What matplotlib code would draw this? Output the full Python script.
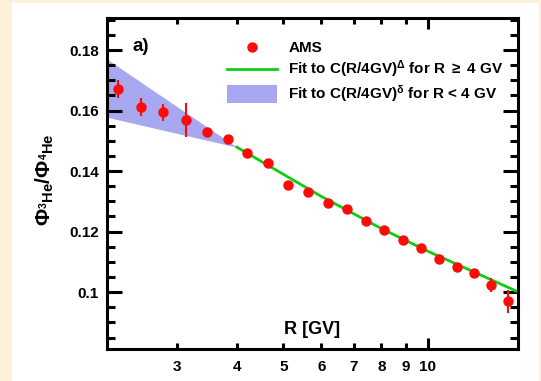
import matplotlib
matplotlib.use("Agg")
import matplotlib.pyplot as plt
from matplotlib.patches import Rectangle, Patch
from matplotlib.lines import Line2D
from matplotlib.legend_handler import HandlerPatch
import numpy as np

plt.rcParams['font.family'] = ['Liberation Sans', 'DejaVu Sans']
plt.rcParams['font.weight'] = 'bold'
plt.rcParams['mathtext.fontset'] = 'custom'
plt.rcParams['mathtext.rm'] = 'Liberation Sans:bold'
plt.rcParams['mathtext.it'] = 'Liberation Sans:bold'
plt.rcParams['mathtext.bf'] = 'Liberation Sans:bold'

# AMS 3He/4He flux ratio
rig = [2.26, 2.53, 2.81, 3.13, 3.46, 3.83, 4.20, 4.64, 5.11, 5.62, 6.19,
       6.78, 7.42, 8.09, 8.86, 9.66, 10.53, 11.48, 12.46, 13.52, 14.66]
ratio = [0.1671, 0.1612, 0.1595, 0.1569, 0.1529, 0.1506, 0.1460, 0.1426,
         0.1354, 0.1331, 0.1294, 0.1274, 0.1235, 0.1205, 0.1172, 0.1145,
         0.1109, 0.1083, 0.1063, 0.1023, 0.0970]
err = [0.0030, 0.0031, 0.0028, 0.0055, 0.0008, 0.0008, 0.0008, 0.0008,
       0.0008, 0.0008, 0.0008, 0.0008, 0.0008, 0.0008, 0.0008, 0.0008,
       0.0008, 0.0008, 0.0008, 0.0023, 0.0038]

# fit above 4 GV
fit_R = [4.0, 6.0, 8.0, 10.0, 15.4]
fit_y = [0.1479, 0.1316, 0.1210, 0.1135, 0.1001]

# band below 4 GV
band_R = [2.145, 4.0]
band_lo = [0.1578, 0.1479]
band_hi = [0.1770, 0.1479]

xticks = [3, 4, 5, 6, 7, 8, 9, 10]

fig = plt.figure(figsize=(5.41, 3.81), dpi=100)
fig.patch.set_facecolor('#fcf0d8')
fig.patches.append(Rectangle((12 / 541, 0), 527 / 541, 378 / 381,
                             transform=fig.transFigure, facecolor='white',
                             edgecolor='none', zorder=-5))

ax = fig.add_axes([107 / 541, 1 - 349 / 381, 411 / 541, 331 / 381])
ax.set_zorder(2)
ax.patch.set_alpha(0)
ax.set_xscale('log')
ax.set_xlim(2.145, 15.4)
ax.set_ylim(0.0812, 0.1906)

ax.fill_between(band_R, band_lo, band_hi, color='#a8a8f0', lw=0, zorder=1)
ax.plot(fit_R, fit_y, color='#11cc11', lw=2, zorder=2)
ax.errorbar(rig, ratio, yerr=err, fmt='o', color='#ff0a0a', ms=6.5,
            elinewidth=1.5, capsize=0, zorder=3)

ax.xaxis.set_major_locator(matplotlib.ticker.FixedLocator([10]))
ax.xaxis.set_minor_locator(matplotlib.ticker.FixedLocator(xticks[:-1]))
ax.xaxis.set_major_formatter(matplotlib.ticker.FixedFormatter(['10']))
ax.xaxis.set_minor_formatter(matplotlib.ticker.FixedFormatter([str(t) for t in xticks[:-1]]))
ax.set_yticks([0.1, 0.12, 0.14, 0.16, 0.18])
ax.set_yticklabels(['0.1', '0.12', '0.14', '0.16', '0.18'])
ax.yaxis.set_minor_locator(matplotlib.ticker.MultipleLocator(0.005))

ax.tick_params(which='both', direction='in', top=True, right=True, width=2.2,
               labelsize=11, pad=6)
ax.tick_params(axis='y', which='major', length=11)
ax.tick_params(axis='y', which='minor', length=6)
ax.tick_params(axis='x', which='major', length=8, pad=8)
ax.tick_params(axis='x', which='minor', length=4, pad=8, labelsize=11)
for s in ax.spines.values():
    s.set_linewidth(2.2)

ax.text(0.5, 0.06, 'R [GV]', transform=ax.transAxes, ha='center',
        va='center', fontsize=13, fontweight='bold')
ax.text(0.063, 0.915, 'a)', transform=ax.transAxes, ha='left', va='center',
        fontsize=13.5, fontweight='bold')
fig.text(45 / 541, 1 - 180 / 381, r'$\Phi_{^3\mathrm{He}}/\Phi_{^4\mathrm{He}}$',
         rotation=90, ha='center', va='center', fontsize=15)


def tall_patch(legend, orig_handle, xdescent, ydescent, width, height, fontsize):
    return Rectangle((-xdescent, -ydescent - 0.35 * height), width, 1.7 * height)


handles = [Line2D([], [], marker='o', color='#ff0a0a', ls='none', ms=6.5),
           Line2D([], [], color='#11cc11', lw=2),
           Patch(facecolor='#a8a8f0', edgecolor='none')]
labels = ['AMS', r'Fit to C(R/4GV)$^{\Delta}$ for R $\geq$ 4 GV',
          r'Fit to C(R/4GV)$^{\delta}$ for R < 4 GV']
ax.legend(handles, labels, loc='upper left', bbox_to_anchor=(0.292, 0.93),
          frameon=False, handlelength=3.3, handletextpad=0.72,
          borderpad=0, borderaxespad=0, labelspacing=0.22,
          handler_map={Patch: HandlerPatch(patch_func=tall_patch)},
          prop={'weight': 'bold', 'size': 11})

fig.savefig('out.png', dpi=100, facecolor=fig.get_facecolor())
